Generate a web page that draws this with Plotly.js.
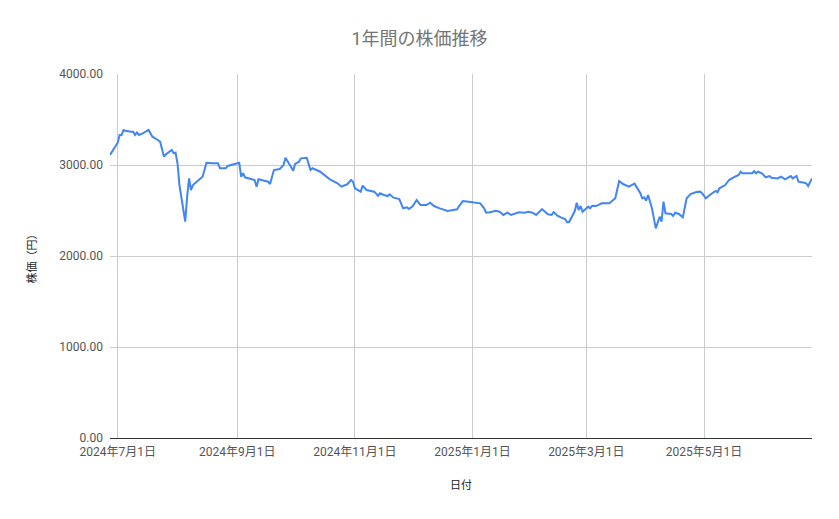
<!DOCTYPE html>
<html>
<head>
<meta charset="utf-8">
<script src="https://cdn.plot.ly/plotly-3.0.1.min.js"></script>
<style>
  html, body { margin: 0; padding: 0; background: #fff; }
  #chart { width: 839px; height: 519px; }
</style>
</head>
<body>
<div id="chart"></div>
<script>
// daily closes (approximate)
const dates = [
  '2024-06-27','2024-07-01','2024-07-02','2024-07-03','2024-07-04','2024-07-05','2024-07-08','2024-07-09',
  '2024-07-10','2024-07-11','2024-07-12','2024-07-14','2024-07-17','2024-07-19','2024-07-21','2024-07-23',
  '2024-07-25','2024-07-26','2024-07-29','2024-07-30','2024-07-31','2024-08-01','2024-08-02','2024-08-05',
  '2024-08-06','2024-08-07','2024-08-08','2024-08-09','2024-08-12','2024-08-14','2024-08-15','2024-08-16',
  '2024-08-19','2024-08-22','2024-08-23','2024-08-26','2024-08-27','2024-08-30','2024-09-02','2024-09-03',
  '2024-09-04','2024-09-05','2024-09-09','2024-09-10','2024-09-11','2024-09-12','2024-09-15','2024-09-17',
  '2024-09-18','2024-09-20','2024-09-23','2024-09-25','2024-09-26','2024-09-28','2024-09-30','2024-10-01',
  '2024-10-03','2024-10-04','2024-10-07','2024-10-09','2024-10-10','2024-10-14','2024-10-16','2024-10-19',
  '2024-10-23','2024-10-25','2024-10-28','2024-10-30','2024-10-31','2024-11-01','2024-11-04','2024-11-05',
  '2024-11-07','2024-11-11','2024-11-13','2024-11-14','2024-11-16','2024-11-18','2024-11-19','2024-11-21',
  '2024-11-24','2024-11-25','2024-11-26','2024-11-28','2024-11-29','2024-12-01','2024-12-03','2024-12-05',
  '2024-12-08','2024-12-10','2024-12-12','2024-12-15','2024-12-19','2024-12-22','2024-12-24','2024-12-25',
  '2024-12-27','2024-12-30','2025-01-02','2025-01-05','2025-01-07','2025-01-08','2025-01-10','2025-01-13',
  '2025-01-15','2025-01-17','2025-01-19','2025-01-21','2025-01-25','2025-01-28','2025-01-30','2025-02-01',
  '2025-02-03','2025-02-06','2025-02-09','2025-02-11','2025-02-12','2025-02-14','2025-02-16','2025-02-18',
  '2025-02-19','2025-02-20','2025-02-23','2025-02-24','2025-02-25','2025-02-26','2025-02-27','2025-03-02',
  '2025-03-03','2025-03-04','2025-03-06','2025-03-09','2025-03-13','2025-03-16','2025-03-18','2025-03-20',
  '2025-03-23','2025-03-26','2025-03-29','2025-03-30','2025-03-31','2025-04-01','2025-04-02','2025-04-04',
  '2025-04-06','2025-04-08','2025-04-09','2025-04-10','2025-04-11','2025-04-14','2025-04-15','2025-04-16',
  '2025-04-18','2025-04-20','2025-04-22','2025-04-24','2025-04-27','2025-04-29','2025-04-30','2025-05-02',
  '2025-05-04','2025-05-07','2025-05-08','2025-05-09','2025-05-12','2025-05-14','2025-05-17','2025-05-19',
  '2025-05-20','2025-05-21','2025-05-24','2025-05-26','2025-05-27','2025-05-28','2025-05-29','2025-05-31',
  '2025-06-02','2025-06-04','2025-06-05','2025-06-08','2025-06-10','2025-06-12','2025-06-15','2025-06-16',
  '2025-06-18','2025-06-19','2025-06-22','2025-06-23','2025-06-24','2025-06-26'
];
const prices = [
  3110,3245,3330,3330,3385,3377,3366,3366,
  3330,3359,3330,3348,3385,3311,3286,3256,
  3091,3117,3165,3128,3136,3019,2780,2377,
  2652,2853,2725,2780,2835,2871,2945,3025,
  3019,3019,2964,2964,2989,3008,3025,2871,
  2909,2865,2846,2835,2762,2843,2827,2816,
  2791,2945,2956,3000,3080,3011,2938,3011,
  3036,3073,3080,2945,2964,2926,2890,2843,
  2799,2762,2788,2835,2816,2744,2707,2773,
  2725,2707,2663,2689,2670,2659,2678,2641,
  2626,2579,2524,2535,2516,2549,2615,2560,
  2560,2586,2549,2524,2494,2505,2513,2549,
  2604,2597,2590,2579,2524,2476,2480,2498,
  2487,2451,2476,2451,2480,2476,2487,2476,
  2451,2516,2458,2451,2484,2443,2421,2407,
  2370,2370,2494,2586,2505,2549,2487,2542,
  2524,2553,2549,2579,2579,2634,2824,2791,
  2762,2795,2689,2634,2645,2608,2670,2524,
  2304,2432,2377,2597,2469,2462,2440,2476,
  2462,2425,2634,2681,2703,2707,2689,2634,
  2670,2714,2700,2744,2780,2835,2871,2890,
  2926,2909,2909,2909,2934,2909,2926,2909,
  2865,2879,2860,2853,2871,2843,2879,2853,
  2879,2816,2805,2799,2769,2853
];
const tickDates = ['2024-07-01','2024-09-01','2024-11-01','2025-01-01','2025-03-01','2025-05-01'];
const tickLabels = ['2024年7月1日','2024年9月1日','2024年11月1日','2025年1月1日','2025年3月1日','2025年5月1日'];
const yTicks = [0, 1000, 2000, 3000, 4000];

const font = 'Roboto, "Noto Sans CJK JP", sans-serif';

const trace = {
  x: dates,
  y: prices,
  type: 'scatter',
  mode: 'lines',
  line: { color: '#4285f4', width: 2 },
  hoverinfo: 'x+y'
};

const layout = {
  width: 839,
  height: 519,
  margin: { l: 110, r: 27, t: 74, b: 81 },
  paper_bgcolor: '#fff',
  plot_bgcolor: '#fff',
  font: { family: font, color: '#444' },
  showlegend: false,
  title: {
    text: '1年間の株価推移',
    font: { family: font, size: 18, color: '#757575' },
    x: 0.5,
    xanchor: 'center',
    y: 0.925,
    yanchor: 'middle'
  },
  xaxis: {
    type: 'date',
    range: [dates[0], dates[dates.length - 1]],
    tickvals: tickDates,
    ticktext: tickLabels,
    showgrid: true,
    gridcolor: '#cccccc',
    gridwidth: 1,
    showline: true,
    linecolor: '#333333',
    linewidth: 1,
    zeroline: false,
    ticks: '',
    ticklabelstandoff: 3,
    tickfont: { family: font, size: 12, color: '#555' },
    title: { text: '日付', font: { family: font, size: 11, color: '#222' }, standoff: 22 }
  },
  yaxis: {
    range: [0, 4000],
    tickvals: yTicks,
    tickformat: '.2f',
    showgrid: true,
    gridcolor: '#cccccc',
    gridwidth: 1,
    zeroline: false,
    showline: false,
    ticks: '',
    ticklabelstandoff: 6,
    tickfont: { family: font, size: 12, color: '#555' },
    title: { text: '株価（円）', font: { family: font, size: 11, color: '#222' }, standoff: 20 }
  }
};

Plotly.newPlot('chart', [trace], layout, { displayModeBar: false, staticPlot: true });
</script>
</body>
</html>
